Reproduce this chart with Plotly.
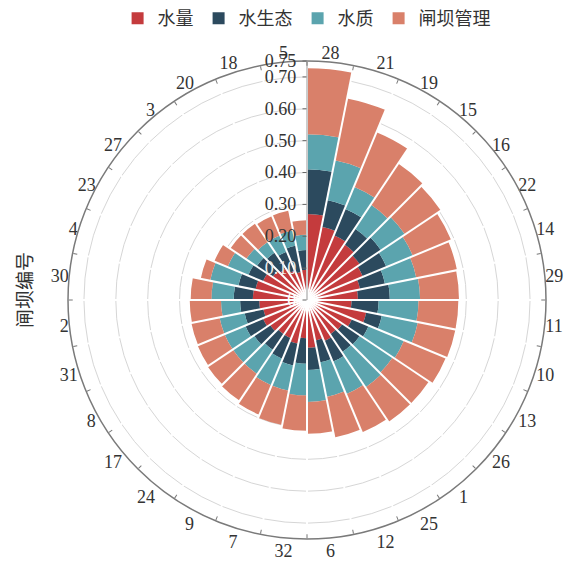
import plotly.graph_objects as go

# Gate numbers, clockwise from the top
gates = ["28", "21", "19", "15", "16", "22", "14", "29", "11", "10", "13", "26",
         "1", "25", "12", "6", "32", "7", "9", "24", "17", "8", "31", "2",
         "30", "4", "23", "27", "3", "20", "18", "5"]

# Component scores per gate
water_quantity = [0.270, 0.234, 0.220, 0.210, 0.200, 0.190, 0.170, 0.160,
                  0.140, 0.190, 0.153, 0.134, 0.130, 0.140, 0.130, 0.150,
                  0.120, 0.140, 0.130, 0.130, 0.140, 0.150, 0.140, 0.150,
                  0.170, 0.165, 0.150, 0.130, 0.120, 0.100, 0.090, 0.095]
water_ecology = [0.140, 0.086, 0.090, 0.060, 0.080, 0.080, 0.080, 0.100,
                 0.085, 0.050, 0.057, 0.066, 0.067, 0.070, 0.070, 0.070,
                 0.080, 0.070, 0.070, 0.060, 0.060, 0.060, 0.060, 0.060,
                 0.060, 0.055, 0.050, 0.060, 0.060, 0.065, 0.084, 0.062]
water_quality = [0.110, 0.127, 0.075, 0.090, 0.090, 0.090, 0.100, 0.095,
                 0.125, 0.115, 0.120, 0.124, 0.133, 0.110, 0.110, 0.100,
                 0.100, 0.080, 0.090, 0.090, 0.080, 0.070, 0.080, 0.060,
                 0.070, 0.090, 0.070, 0.040, 0.040, 0.055, 0.049, 0.048]
dam_management = [0.207, 0.198, 0.185, 0.155, 0.135, 0.130, 0.130, 0.122,
                  0.125, 0.120, 0.142, 0.136, 0.130, 0.130, 0.130, 0.100,
                  0.110, 0.110, 0.100, 0.100, 0.095, 0.092, 0.090, 0.098,
                  0.065, 0.030, 0.045, 0.060, 0.070, 0.065, 0.063, 0.045]

series_names = ["水量", "水生态", "水质", "闸坝管理"]
series_values = [water_quantity, water_ecology, water_quality, dam_management]
series_colors = ["#c43b3d", "#2c4a5e", "#5ba4ae", "#d9806a"]

radial_ticks = [0, 0.10, 0.20, 0.30, 0.40, 0.50, 0.60, 0.70, 0.75]
radial_ticktext = ["<span style='color:white'>0</span>",
                   "<span style='color:#ececec'>0.10</span>",
                   "0.20", "0.30", "0.40", "0.50", "0.60", "0.70", "0.75"]

n = len(gates)
step = 360 / n
centers = [step * (i + 0.5) for i in range(n)]
edges = [step * i for i in range(n)]

serif = "Liberation Serif, Times New Roman, serif"
cjk = "Noto Sans CJK SC, sans-serif"

fig = go.Figure()
for name, vals, color in zip(series_names, series_values, series_colors):
    fig.add_trace(go.Barpolar(
        r=vals, theta=centers, width=[step] * n, name=name,
        marker=dict(color=color, line=dict(width=0)),
        subplot="polar",
    ))

# overlay subplot: white separators between gates, outer ring, radial scale
fig.add_trace(go.Scatterpolar(r=[0], theta=[0], mode="markers",
                              marker=dict(opacity=0), showlegend=False,
                              hoverinfo="skip", subplot="polar2"))

cx, cy, rad = 307, 300, 239
W, H = 584, 562
dom_x = [(cx - rad) / W, (cx + rad) / W]
dom_y = [1 - (cy + rad) / H, 1 - (cy - rad) / H]

fig.update_layout(
    width=W, height=H,
    margin=dict(l=0, r=0, t=0, b=0),
    paper_bgcolor="white",
    polar=dict(
        domain=dict(x=dom_x, y=dom_y),
        bgcolor="white",
        barmode="stack",
        angularaxis=dict(
            rotation=90, direction="clockwise",
            tickmode="array", tickvals=centers, ticktext=gates,
            ticks="", showgrid=False, showline=False,
            tickfont=dict(family=serif, size=18, color="#333"),
        ),
        radialaxis=dict(
            range=[0, 0.75], angle=90,
            tickmode="array", tickvals=radial_ticks,
            showticklabels=False, ticks="", showline=False,
            showgrid=True, gridcolor="#d6d6d6", gridwidth=1,
        ),
    ),
    polar2=dict(
        domain=dict(x=dom_x, y=dom_y),
        bgcolor="rgba(0,0,0,0)",
        angularaxis=dict(
            rotation=90, direction="clockwise",
            tickmode="array", tickvals=edges, ticktext=[""] * n,
            ticks="inside", ticklen=4, tickcolor="#777",
            showgrid=True, gridcolor="white", gridwidth=2.2,
            showline=True, linecolor="#7a7a7a", linewidth=1.5,
        ),
        radialaxis=dict(
            range=[0, 0.75], angle=90, tickangle=90,
            tickmode="array", tickvals=radial_ticks, ticktext=radial_ticktext,
            ticks="outside", ticklen=4, tickcolor="#666",
            showline=True, linecolor="#999", linewidth=1,
            showgrid=False,
            tickfont=dict(family=serif, size=18, color="#333"),
            side="counterclockwise",
        ),
    ),
    legend=dict(
        orientation="h", x=0.525, xanchor="center", y=1.0, yanchor="top",
        font=dict(family=cjk, size=18, color="#333"),
        itemwidth=30, tracegroupgap=0,
    ),
    annotations=[dict(
        text="闸坝编号", x=23 / W, y=1 - 290 / H, xref="paper", yref="paper",
        xanchor="center", yanchor="middle",
        textangle=-90, showarrow=False,
        font=dict(family=cjk, size=19, color="#333"),
    )],
)

fig.write_html("out.html")
